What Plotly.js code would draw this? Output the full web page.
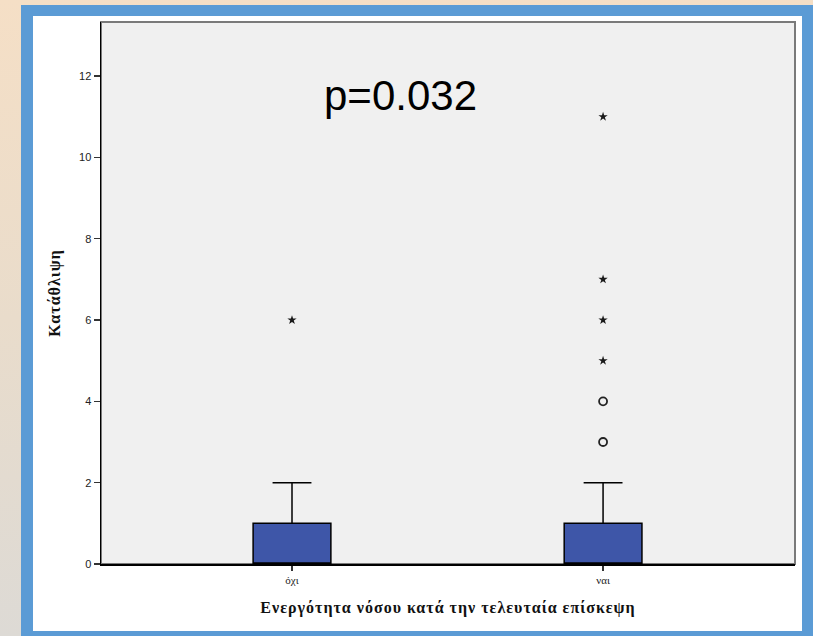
<!DOCTYPE html>
<html>
<head>
<meta charset="utf-8">
<script src="https://cdn.plot.ly/plotly-3.0.1.min.js"></script>
<style>
  html, body { margin: 0; padding: 0; width: 813px; height: 636px; overflow: hidden; }
  body { background: linear-gradient(to bottom, #f5dfc6 0%, #e9dccb 50%, #dddad5 100%); position: relative; }
  #frame { position: absolute; left: 21px; top: 5px; width: 792px; height: 631px; background: #5b9bd5; }
  #chart { position: absolute; left: 33px; top: 16px; width: 769px; height: 615px; background: #ffffff; }
  #chart .xtitle, #chart .ytitle { letter-spacing: 1px; }
</style>
</head>
<body>
<div id="frame"></div>
<div id="chart"></div>
<script>
// ---- data ----
const categories = ['όχι', 'ναι'];
const q1Values = [0, 0];
const medianValues = [0, 0];
const q3Values = [1, 1];
const lowerWhisker = [0, 0];
const upperWhisker = [2, 2];

// extreme values (asterisks)
const extremeCats = ['όχι', 'ναι', 'ναι', 'ναι', 'ναι'];
const extremeVals = [6, 11, 7, 6, 5];
// outliers (circles)
const outlierCats = ['ναι', 'ναι'];
const outlierVals = [4, 3];

const yTickVals = [0, 2, 4, 6, 8, 10, 12];
const pLabel = 'p=0.032';
const xTitle = 'Ενεργότητα νόσου κατά την τελευταία επίσκεψη';
const yTitle = 'Κατάθλιψη';

const traces = [
  {
    type: 'box',
    x: categories,
    q1: q1Values,
    median: medianValues,
    q3: q3Values,
    lowerfence: lowerWhisker,
    upperfence: upperWhisker,
    width: 0.25,
    whiskerwidth: 0.5,
    fillcolor: '#3e56a8',
    line: { color: '#000000', width: 1.5 },
    boxpoints: false,
    hoverinfo: 'skip',
    showlegend: false
  },
  {
    type: 'scatter',
    mode: 'markers',
    x: extremeCats,
    y: extremeVals,
    marker: { symbol: 'star', size: 7, color: '#1a1a1a', line: { width: 0 } },
    showlegend: false,
    cliponaxis: false
  },
  {
    type: 'scatter',
    mode: 'markers',
    x: outlierCats,
    y: outlierVals,
    marker: { symbol: 'circle-open', size: 8, color: '#222222', line: { width: 1.8, color: '#222222' } },
    showlegend: false,
    cliponaxis: false
  }
];

const layout = {
  width: 769,
  height: 615,
  margin: { l: 68, r: 7, t: 6, b: 67, pad: 0 },
  paper_bgcolor: '#ffffff',
  plot_bgcolor: '#f0f0f0',
  showlegend: false,
  xaxis: {
    type: 'category',
    categoryorder: 'array',
    categoryarray: categories,
    range: [-0.614, 1.617],
    showgrid: false,
    zeroline: false,
    showline: true,
    linecolor: '#000000',
    linewidth: 1.5,
    ticks: 'outside',
    ticklen: 5,
    tickwidth: 1.5,
    tickcolor: '#333333',
    tickfont: { family: 'Liberation Serif, Times New Roman, serif', size: 11, color: '#222222' },
    title: {
      text: '<b>' + xTitle + '</b>',
      font: { family: 'Liberation Serif, Times New Roman, serif', size: 16, color: '#111111' },
      standoff: 17
    }
  },
  yaxis: {
    range: [0, 13.33],
    tickvals: yTickVals,
    showgrid: false,
    zeroline: false,
    showline: true,
    linecolor: '#000000',
    linewidth: 1.5,
    ticks: 'outside',
    ticklen: 6,
    tickwidth: 1.5,
    tickcolor: '#333333',
    tickfont: { family: 'Liberation Sans, Arial, sans-serif', size: 11, color: '#222222' },
    title: {
      text: '<b>' + yTitle + '</b>',
      font: { family: 'Liberation Serif, Times New Roman, serif', size: 16, color: '#111111' },
      standoff: 14
    }
  },
  shapes: [
    {
      type: 'rect', xref: 'paper', yref: 'paper', x0: 0, x1: 1, y0: 0, y1: 1,
      line: { color: '#7a7a7a', width: 2 }, layer: 'below'
    }
  ],
  annotations: [
    {
      text: pLabel,
      xref: 'paper', yref: 'paper',
      x: 0.431, y: 0.865,
      xanchor: 'center', yanchor: 'middle',
      showarrow: false,
      font: { family: 'Liberation Sans, Arial, sans-serif', size: 42, color: '#000000' }
    }
  ]
};

Plotly.newPlot('chart', traces, layout, { displayModeBar: false, staticPlot: true });
</script>
</body>
</html>
